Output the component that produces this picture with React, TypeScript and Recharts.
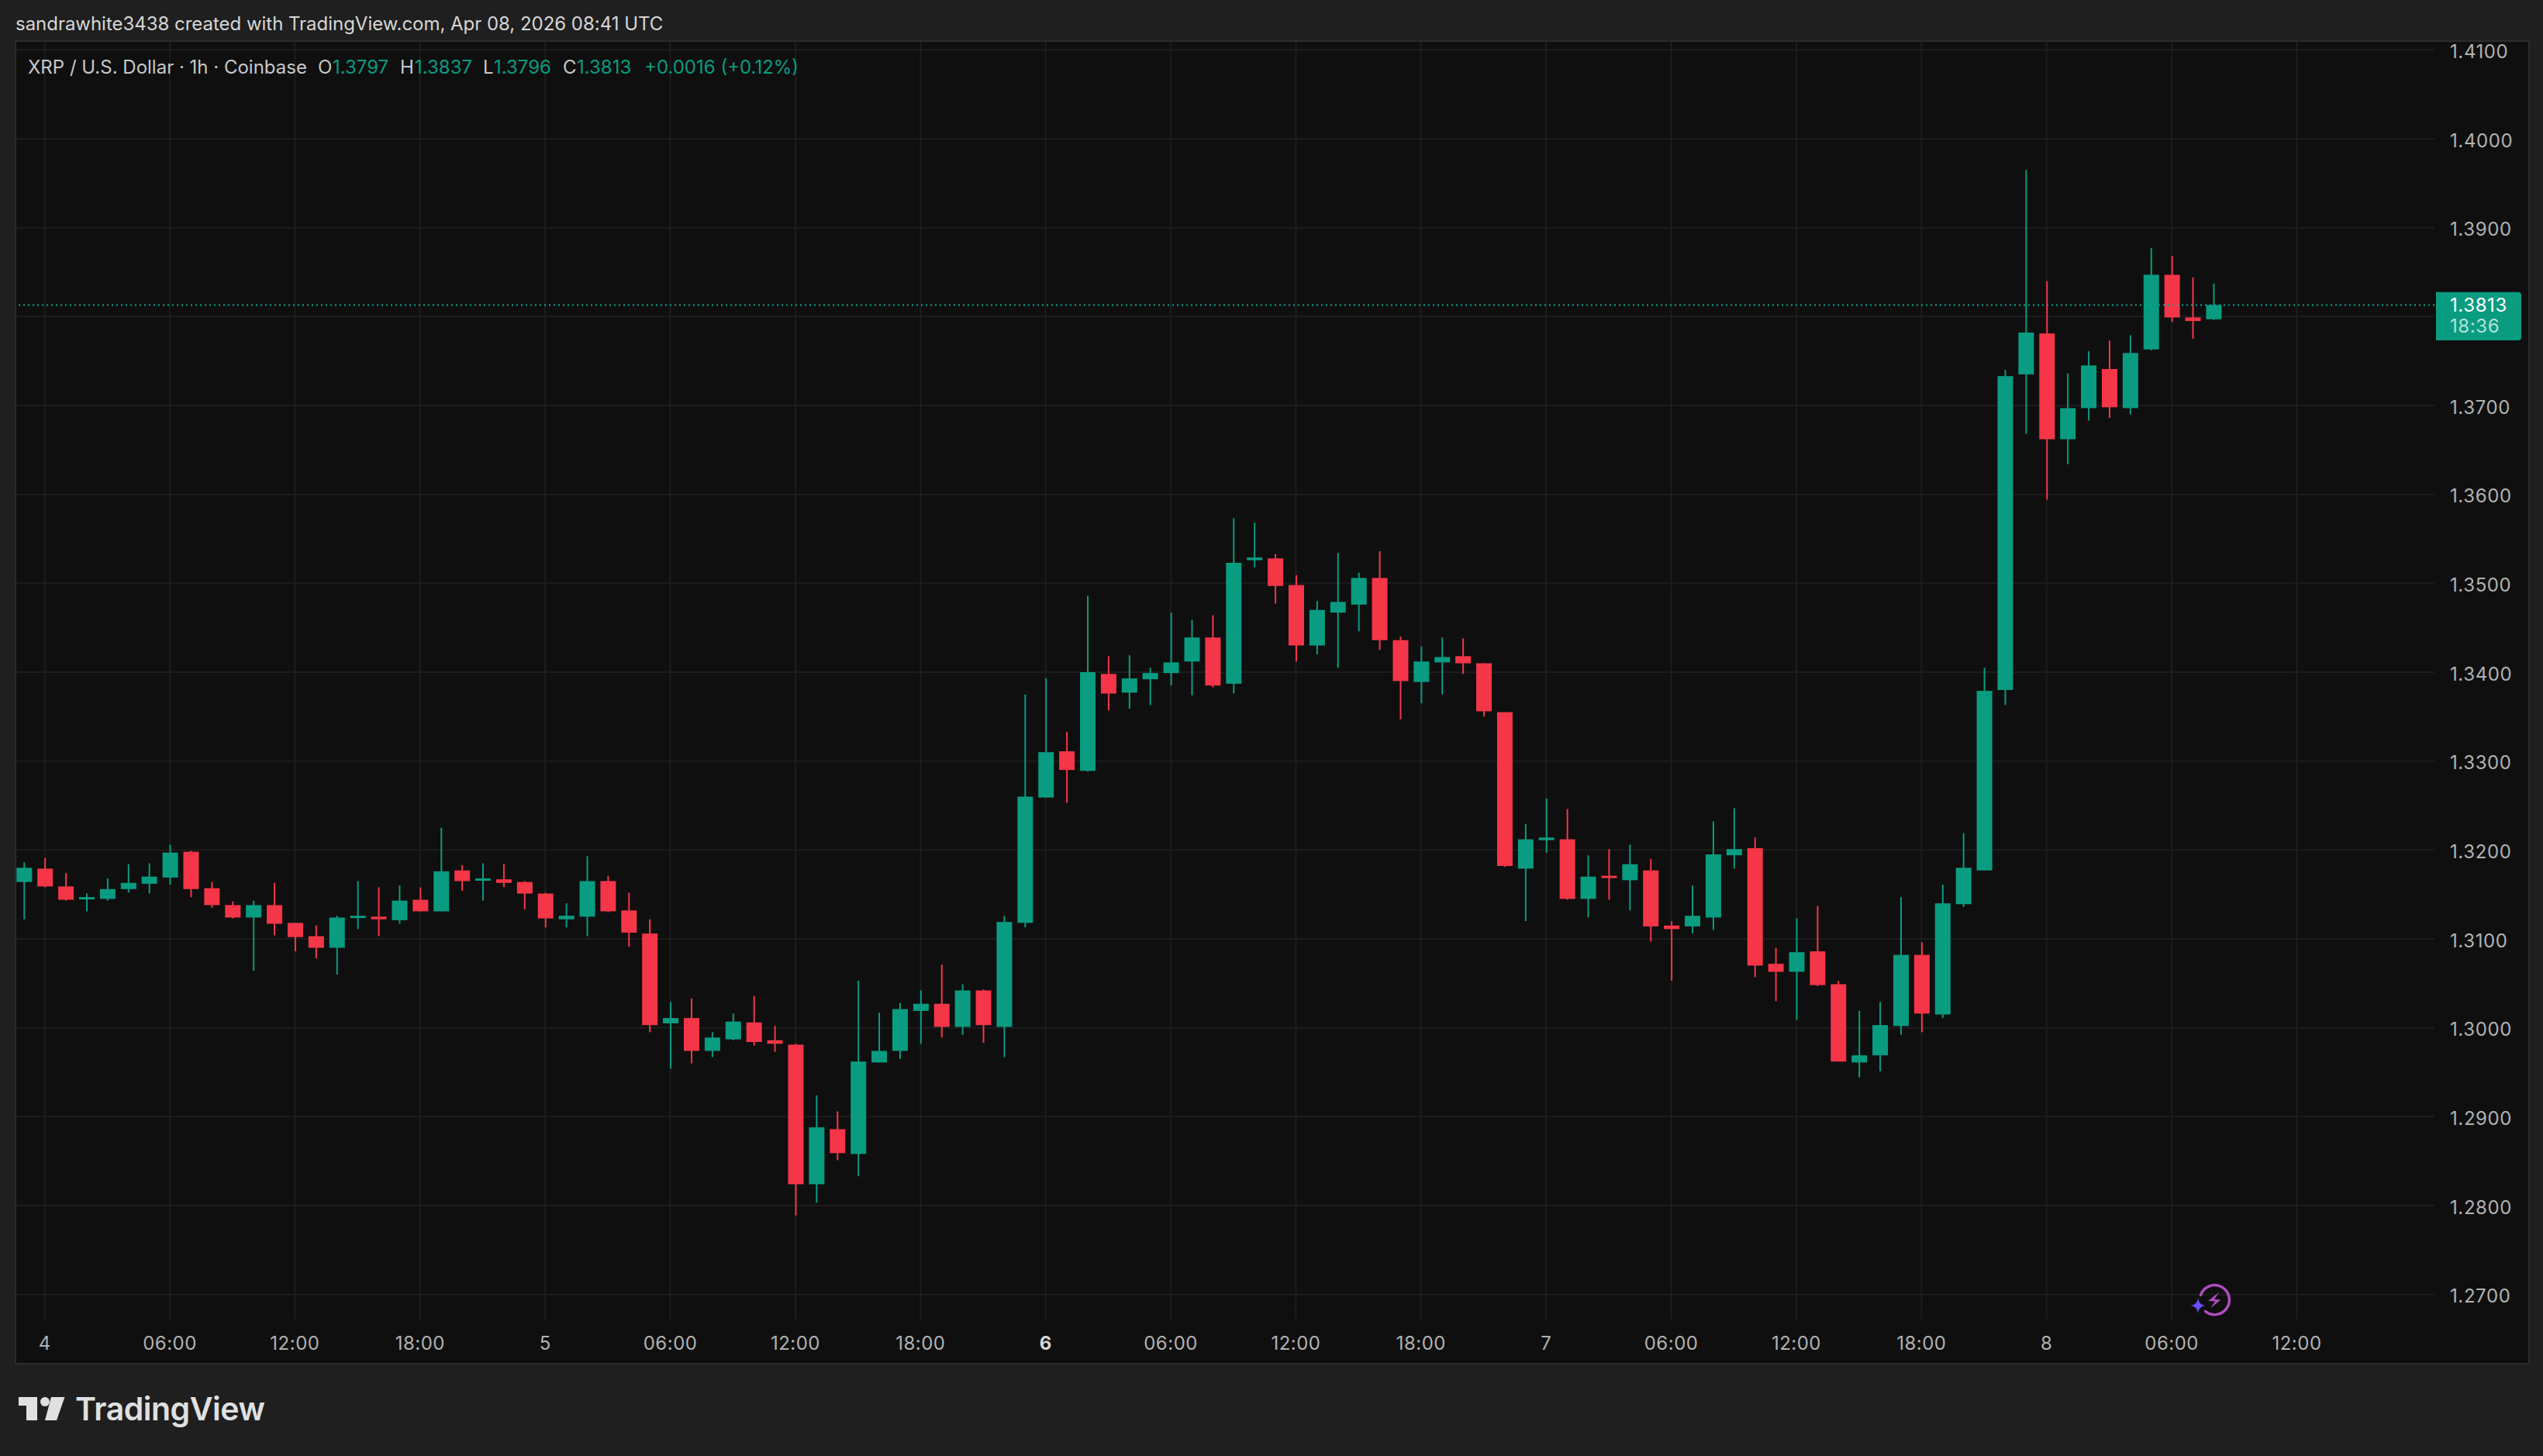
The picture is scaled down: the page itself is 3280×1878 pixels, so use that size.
import { Bar, CartesianGrid, ComposedChart, ReferenceLine, XAxis, YAxis } from "recharts";

// hourly XRP/USD candles (first candle is 23:00 on the 3rd)
const opens = [
  1.3164, 1.3179, 1.3159, 1.3145, 1.3145, 1.3156, 1.3162, 1.3169, 1.3198, 1.3157,
  1.3138, 1.3124, 1.3138, 1.3118, 1.3103, 1.3090, 1.3124, 1.3125, 1.3121, 1.3144,
  1.3131, 1.3177, 1.3166, 1.3167, 1.3164, 1.3151, 1.3122, 1.3125, 1.3165, 1.3132,
  1.3106, 1.3005, 1.3011, 1.2974, 1.2987, 1.3006, 1.2986, 1.2981, 1.2824, 1.2886,
  1.2858, 1.2961, 1.2974, 1.3019, 1.3027, 1.3001, 1.3042, 1.3001, 1.3118, 1.3259,
  1.3311, 1.3289, 1.3398, 1.3377, 1.3392, 1.3399, 1.3412, 1.3439, 1.3387, 1.3526,
  1.3528, 1.3498, 1.3430, 1.3467, 1.3476, 1.3506, 1.3436, 1.3389, 1.3411, 1.3418,
  1.3410, 1.3355, 1.3179, 1.3211, 1.3212, 1.3145, 1.3171, 1.3166, 1.3177, 1.3115,
  1.3114, 1.3124, 1.3194, 1.3202, 1.3072, 1.3063, 1.3086, 1.3049, 1.2961, 1.2969,
  1.3002, 1.3082, 1.3015, 1.3139, 1.3177, 1.3380, 1.3735, 1.3781, 1.3662, 1.3697,
  1.3741, 1.3697, 1.3763, 1.3847, 1.3799, 1.3797,
];
const highs = [
  1.3186, 1.3191, 1.3174, 1.3151, 1.3168, 1.3184, 1.3185, 1.3206, 1.3199, 1.3164,
  1.3142, 1.3143, 1.3163, 1.3118, 1.3115, 1.3126, 1.3165, 1.3158, 1.3160, 1.3158,
  1.3225, 1.3183, 1.3185, 1.3184, 1.3165, 1.3152, 1.3140, 1.3193, 1.3171, 1.3152,
  1.3122, 1.3029, 1.3033, 1.2995, 1.3016, 1.3036, 1.3002, 1.2982, 1.2924, 1.2906,
  1.3053, 1.3017, 1.3028, 1.3042, 1.3071, 1.3049, 1.3043, 1.3126, 1.3375, 1.3393,
  1.3333, 1.3486, 1.3418, 1.3419, 1.3405, 1.3467, 1.3459, 1.3464, 1.3573, 1.3568,
  1.3533, 1.3509, 1.3480, 1.3534, 1.3512, 1.3536, 1.3440, 1.3429, 1.3439, 1.3438,
  1.3410, 1.3355, 1.3229, 1.3258, 1.3246, 1.3194, 1.3201, 1.3206, 1.3190, 1.3120,
  1.3160, 1.3232, 1.3247, 1.3214, 1.3090, 1.3123, 1.3137, 1.3053, 1.3019, 1.3029,
  1.3147, 1.3096, 1.3161, 1.3219, 1.3405, 1.3740, 1.3965, 1.3840, 1.3736, 1.3761,
  1.3773, 1.3779, 1.3877, 1.3868, 1.3844, 1.3837,
];
const lows = [
  1.3122, 1.3158, 1.3143, 1.3131, 1.3143, 1.3152, 1.3151, 1.3161, 1.3147, 1.3135,
  1.3123, 1.3064, 1.3104, 1.3086, 1.3078, 1.3060, 1.3111, 1.3103, 1.3117, 1.3131,
  1.3131, 1.3154, 1.3143, 1.3158, 1.3133, 1.3113, 1.3113, 1.3103, 1.3130, 1.3091,
  1.2995, 1.2954, 1.2960, 1.2967, 1.2986, 1.2980, 1.2973, 1.2789, 1.2803, 1.2851,
  1.2833, 1.2961, 1.2965, 1.2982, 1.2989, 1.2992, 1.2983, 1.2967, 1.3113, 1.3259,
  1.3253, 1.3288, 1.3357, 1.3359, 1.3363, 1.3385, 1.3374, 1.3383, 1.3376, 1.3518,
  1.3477, 1.3412, 1.3420, 1.3405, 1.3446, 1.3425, 1.3347, 1.3365, 1.3375, 1.3398,
  1.3350, 1.3181, 1.3120, 1.3197, 1.3144, 1.3124, 1.3144, 1.3132, 1.3097, 1.3053,
  1.3106, 1.3110, 1.3179, 1.3057, 1.3030, 1.3009, 1.3047, 1.2962, 1.2944, 1.2951,
  1.2992, 1.2995, 1.3011, 1.3136, 1.3177, 1.3363, 1.3668, 1.3594, 1.3634, 1.3683,
  1.3686, 1.3690, 1.3762, 1.3794, 1.3775, 1.3796,
];
const closes = [
  1.3180, 1.3159, 1.3144, 1.3147, 1.3156, 1.3163, 1.3170, 1.3197, 1.3156, 1.3138,
  1.3124, 1.3138, 1.3117, 1.3102, 1.3090, 1.3124, 1.3126, 1.3122, 1.3143, 1.3131,
  1.3176, 1.3165, 1.3168, 1.3163, 1.3151, 1.3123, 1.3126, 1.3165, 1.3131, 1.3107,
  1.3003, 1.3011, 1.2974, 1.2989, 1.3007, 1.2984, 1.2982, 1.2824, 1.2888, 1.2859,
  1.2962, 1.2974, 1.3021, 1.3027, 1.3001, 1.3042, 1.3003, 1.3119, 1.3260, 1.3310,
  1.3290, 1.3400, 1.3376, 1.3393, 1.3399, 1.3411, 1.3439, 1.3385, 1.3523, 1.3529,
  1.3497, 1.3430, 1.3470, 1.3479, 1.3506, 1.3436, 1.3390, 1.3412, 1.3417, 1.3410,
  1.3356, 1.3182, 1.3212, 1.3214, 1.3145, 1.3170, 1.3169, 1.3184, 1.3114, 1.3111,
  1.3126, 1.3195, 1.3201, 1.3070, 1.3063, 1.3085, 1.3048, 1.2962, 1.2969, 1.3003,
  1.3082, 1.3016, 1.3140, 1.3180, 1.3379, 1.3733, 1.3782, 1.3662, 1.3697, 1.3745,
  1.3698, 1.3759, 1.3847, 1.3799, 1.3795, 1.3813,
];

const priceTicks = [
  1.27, 1.28, 1.29, 1.3, 1.31, 1.32, 1.33, 1.34, 1.35, 1.36, 1.37, 1.38, 1.39, 1.4, 1.41,
];
const timeTicks = [
  0, 6, 12, 18, 24, 30, 36, 42, 48, 54, 60, 66, 72, 78, 84, 90, 96, 102, 108,
];
const timeLabels = [
  "4", "06:00", "12:00", "18:00", "5", "06:00", "12:00", "18:00", "6", "06:00",
  "12:00", "18:00", "7", "06:00", "12:00", "18:00", "8", "06:00", "12:00",
];
const lastPrice = 1.3813;
const countdown = "18:36";

const GREEN = "#099C81";
const RED = "#F43648";
const GRID = "#1d1d1d";
const TICK = "#b2b2b2";
const FONT = "Inter, sans-serif";

const rows = opens.map((open, i) => ({
  hour: i - 1,
  open,
  close: closes[i],
  high: highs[i],
  low: lows[i],
  range: [lows[i], highs[i]],
}));

// Bar gives us the high-low box; open/close are placed inside it on the same scale
function Candle(props: any) {
  const { y, width, height, payload } = props;
  const x = props.x + 1; // recharts truncates the bar offset, nudge back onto the hour
  const { open, close, high, low } = payload;
  const color = close >= open ? GREEN : RED;
  const at = (p: number) => y + ((high - p) / (high - low)) * height;
  const top = at(Math.max(open, close));
  const bottom = at(Math.min(open, close));
  return (
    <g>
      <rect x={x + width / 2 - 1} y={y} width={2} height={height} fill={color} />
      <rect x={x} y={top} width={width} height={Math.max(bottom - top, 3)} fill={color} />
    </g>
  );
}

function TimeTick(props: any) {
  const { x, y, payload, index } = props;
  const label = timeLabels[index];
  return (
    <text
      x={x}
      y={y + 31}
      textAnchor="middle"
      fontFamily={FONT}
      fontSize={24}
      letterSpacing={0.5}
      fontWeight={payload.value === 48 ? 700 : 400}
      fill={payload.value === 48 ? "#d6d6d6" : TICK}
    >
      {label}
    </text>
  );
}

function LastPriceTag(props: any) {
  const { viewBox } = props;
  const right = viewBox.x + viewBox.width;
  const y = viewBox.y;
  const left = right + 2;
  const w = 110;
  const t = y - 16.7;
  const b = y + 45.6;
  return (
    <g fontFamily={FONT} fontSize={24} letterSpacing={0.6}>
      <path
        d={`M ${left} ${t} H ${left + w - 4} Q ${left + w} ${t} ${left + w} ${t + 4} V ${b - 4} Q ${left + w} ${b} ${left + w - 4} ${b} H ${left} Z`}
        fill={GREEN}
      />
      <text x={right + 20} y={y + 8.5} fill="#ffffff">
        {lastPrice.toFixed(4)}
      </text>
      <text x={right + 20} y={y + 36} fill="#b4e1d7">
        {countdown}
      </text>
    </g>
  );
}

const legendStyle = (left: number, color: string) =>
  ({ position: "absolute", left, top: 72, color, fontSize: 24, lineHeight: "30px", whiteSpace: "nowrap" }) as const;

export default function App() {
  return (
    <div
      style={{
        position: "absolute",
        left: 0,
        top: 0,
        width: 3280,
        height: 1878,
        background: "#1f1f1f",
        overflow: "hidden",
        fontFamily: FONT,
      }}
    >
      <div
        style={{ position: "absolute", left: 20, top: 15, color: "#d6d6d6", fontSize: 24, lineHeight: "32px", letterSpacing: -0.03, whiteSpace: "nowrap" }}
      >
        sandrawhite3438 created with TradingView.com, Apr 08, 2026 08:41 UTC
      </div>

      <div
        style={{
          position: "absolute",
          left: 19,
          top: 52,
          width: 3240,
          height: 1704,
          background: "#0f0f0f",
          border: "2px solid #2c2c2c",
        }}
      />

      <ComposedChart
        width={3280}
        height={1878}
        data={rows}
        margin={{ top: 54, right: 20, bottom: 121, left: 20 }}
        style={{ position: "absolute", left: 0, top: 0 }}
      >
        <CartesianGrid stroke={GRID} strokeWidth={2} syncWithTicks />
        <XAxis
          dataKey="hour"
          type="number"
          scale="linear"
          domain={[-1.4, 114.6]}
          allowDataOverflow
          ticks={timeTicks}
          interval={0}
          height={55}
          axisLine={false}
          tickLine={false}
          tick={<TimeTick />}
        />
        <YAxis
          orientation="right"
          type="number"
          domain={[1.26718, 1.4109]}
          allowDataOverflow
          ticks={priceTicks}
          interval={0}
          width={120}
          axisLine={false}
          tickLine={false}
          tickSize={0}
          tickMargin={20}
          // 1.3800 sits behind the last price tag in the original
          tickFormatter={(v: number) => (v === 1.38 ? "" : v.toFixed(4))}
          tick={{ fill: TICK, fontSize: 24, fontFamily: FONT, letterSpacing: 0.6, dy: 2 }}
        />
        <ReferenceLine
          y={lastPrice}
          stroke="#0aa88c"
          strokeWidth={2}
          strokeDasharray="2 4"
          label={<LastPriceTag />}
        />
        <Bar dataKey="range" barSize={20} shape={<Candle />} isAnimationActive={false} />
      </ComposedChart>

      <div style={legendStyle(36, "#c8c8c8")}>XRP / U.S. Dollar · 1h · Coinbase</div>
      <div style={legendStyle(410, "#c8c8c8")}>O</div>
      <div style={legendStyle(429, GREEN)}>1.3797</div>
      <div style={legendStyle(516, "#c8c8c8")}>H</div>
      <div style={legendStyle(535, GREEN)}>1.3837</div>
      <div style={legendStyle(623, "#c8c8c8")}>L</div>
      <div style={legendStyle(637, GREEN)}>1.3796</div>
      <div style={legendStyle(726, "#c8c8c8")}>C</div>
      <div style={legendStyle(744, GREEN)}>1.3813</div>
      <div style={legendStyle(831, GREEN)}>+0.0016 (+0.12%)</div>

      {/* publish badge in the corner of the plot */}
      <svg width={80} height={60} style={{ position: "absolute", left: 2815, top: 1650 }}>
        <path
          d="M 23.5 20.3 A 19 19 0 1 1 29.5 41.4"
          fill="none"
          stroke="#B04CC2"
          strokeWidth={3.5}
          strokeLinecap="round"
        />
        <path d="M 47.5 16.5 L 33 28 L 42 28.5 L 36 37.5 L 49.5 26.5 L 41 26 Z" fill="#B04CC2" />
        <path d="M 20 24 Q 21 33 29.5 34 Q 21 35 20 44 Q 19 35 10.5 34 Q 19 33 20 24 Z" fill="#6B4CFF" />
      </svg>

      {/* TradingView mark */}
      <svg width={70} height={40} style={{ position: "absolute", left: 20, top: 1798 }}>
        <path d="M 4 4 H 28 V 34 H 14 V 15 H 4 Z" fill="#e0e0e0" />
        <circle cx={38} cy={10} r={6} fill="#e0e0e0" />
        <path d="M 46 4 H 63.5 L 53 34 H 38 Z" fill="#e0e0e0" />
      </svg>
      <div
        style={{
          position: "absolute",
          left: 97,
          top: 1792,
          fontSize: 41,
          lineHeight: "50px",
          fontWeight: 600,
          letterSpacing: -0.5,
          color: "#e0e0e0",
        }}
      >
        TradingView
      </div>
    </div>
  );
}
